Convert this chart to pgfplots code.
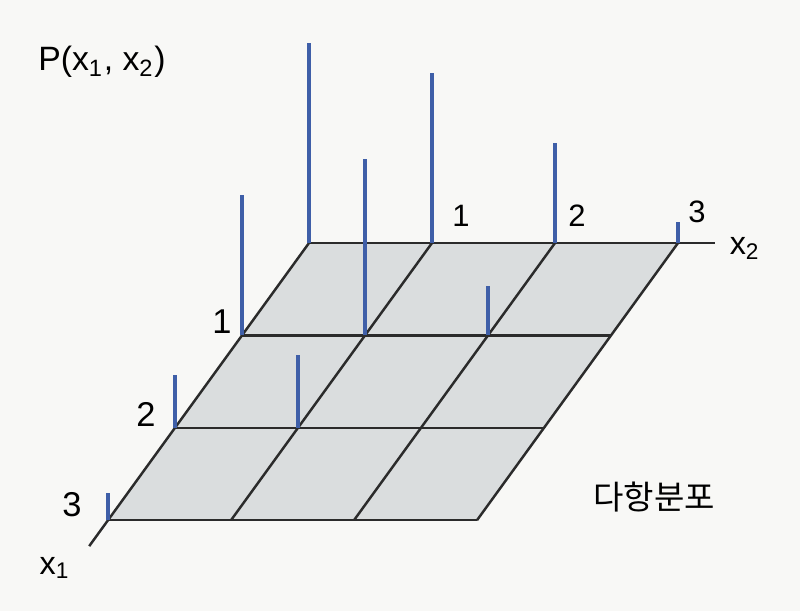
\documentclass[border=0pt]{standalone}
\usepackage{pgfplots}
\pgfplotsset{compat=1.18}
\usepackage{fontspec}
\setmainfont{Liberation Sans}
\newfontfamily\kr{Noto Sans CJK KR}
\definecolor{stemc}{HTML}{3F5FA8}
\definecolor{planec}{HTML}{DADDDE}
\definecolor{gridc}{HTML}{2B2B2B}
\definecolor{bgc}{HTML}{F8F8F6}
\begin{document}
\begin{tikzpicture}
\begin{axis}[
  x={(-0.67cm,-0.924cm)}, y={(1.23cm,0cm)}, z={(0cm,10cm)},
  hide axis, clip=false, no marks,
  xmin=0, xmax=3.3, ymin=0, ymax=3.3, zmin=0, zmax=0.2,
]
% background and page frame (origin of the plane at pixel 309,243)
\fill[bgc] (axis cs:0,-2.512,0.243) rectangle (axis cs:0,3.992,-0.368);
\coordinate (TL) at (axis cs:0,-2.512,0.243);
\coordinate (BR) at (axis cs:0,3.992,-0.368);
% plane
\addplot3[fill=planec, draw=none] coordinates {(0,0,0) (3,0,0) (3,3,0) (0,3,0) (0,0,0)};
% grid lines
\addplot3[gridc, line width=0.7pt] coordinates {(0,0,0) (0,3.3,0)};
\addplot3[gridc, line width=0.7pt] coordinates {(1,0,0) (1,3,0)};
\addplot3[gridc, line width=0.7pt] coordinates {(2,0,0) (2,3,0)};
\addplot3[gridc, line width=0.7pt] coordinates {(3,0,0) (3,3,0)};
\addplot3[gridc, line width=0.7pt] coordinates {(0,0,0) (3.28,0,0)};
\addplot3[gridc, line width=0.7pt] coordinates {(0,1,0) (3,1,0)};
\addplot3[gridc, line width=0.7pt] coordinates {(0,2,0) (3,2,0)};
\addplot3[gridc, line width=0.7pt] coordinates {(0,3,0) (3,3,0)};
% stems P(x1,x2)
\addplot3[stemc, line width=1pt] coordinates {(0,0,0) (0,0,0.200)};
\addplot3[stemc, line width=1pt] coordinates {(0,1,0) (0,1,0.170)};
\addplot3[stemc, line width=1pt] coordinates {(0,2,0) (0,2,0.100)};
\addplot3[stemc, line width=1pt] coordinates {(0,3,0) (0,3,0.021)};
\addplot3[stemc, line width=1pt] coordinates {(1,0,0) (1,0,0.140)};
\addplot3[stemc, line width=1pt] coordinates {(1,1,0) (1,1,0.176)};
\addplot3[stemc, line width=1pt] coordinates {(1,2,0) (1,2,0.049)};
\addplot3[stemc, line width=1pt] coordinates {(2,0,0) (2,0,0.053)};
\addplot3[stemc, line width=1pt] coordinates {(2,1,0) (2,1,0.073)};
\addplot3[stemc, line width=1pt] coordinates {(3,0,0) (3,0,0.027)};
% labels
\node[font=\fontsize{9.6}{11}\selectfont] at (axis cs:0,-1.683,0.181) {P(x\textsubscript{1}, x\textsubscript{2})};
\node[font=\fontsize{9.8}{11}\selectfont] at (axis cs:0,-0.707,-0.079) {1};
\node[font=\fontsize{9.8}{11}\selectfont] at (axis cs:0,-1.325,-0.171) {2};
\node[font=\fontsize{9.8}{11}\selectfont] at (axis cs:0,-1.927,-0.262) {3};
\node[font=\fontsize{8.8}{10}\selectfont] at (axis cs:0,1.236,0.027) {1};
\node[font=\fontsize{8.8}{10}\selectfont] at (axis cs:0,2.179,0.027) {2};
\node[font=\fontsize{8.8}{10}\selectfont] at (axis cs:0,3.154,0.031) {3};
\node[font=\fontsize{9.2}{10}\selectfont] at (axis cs:0,3.545,-0.005) {x\textsubscript{2}};
\node[font=\fontsize{9.2}{10}\selectfont] at (axis cs:0,-2.065,-0.325) {x\textsubscript{1}};
\node[font=\kr\fontsize{9.4}{11}\selectfont] at (axis cs:0,2.805,-0.254) {다항분포};
\end{axis}
\pgfresetboundingbox
\path (TL) rectangle (BR);
\end{tikzpicture}
\end{document}
